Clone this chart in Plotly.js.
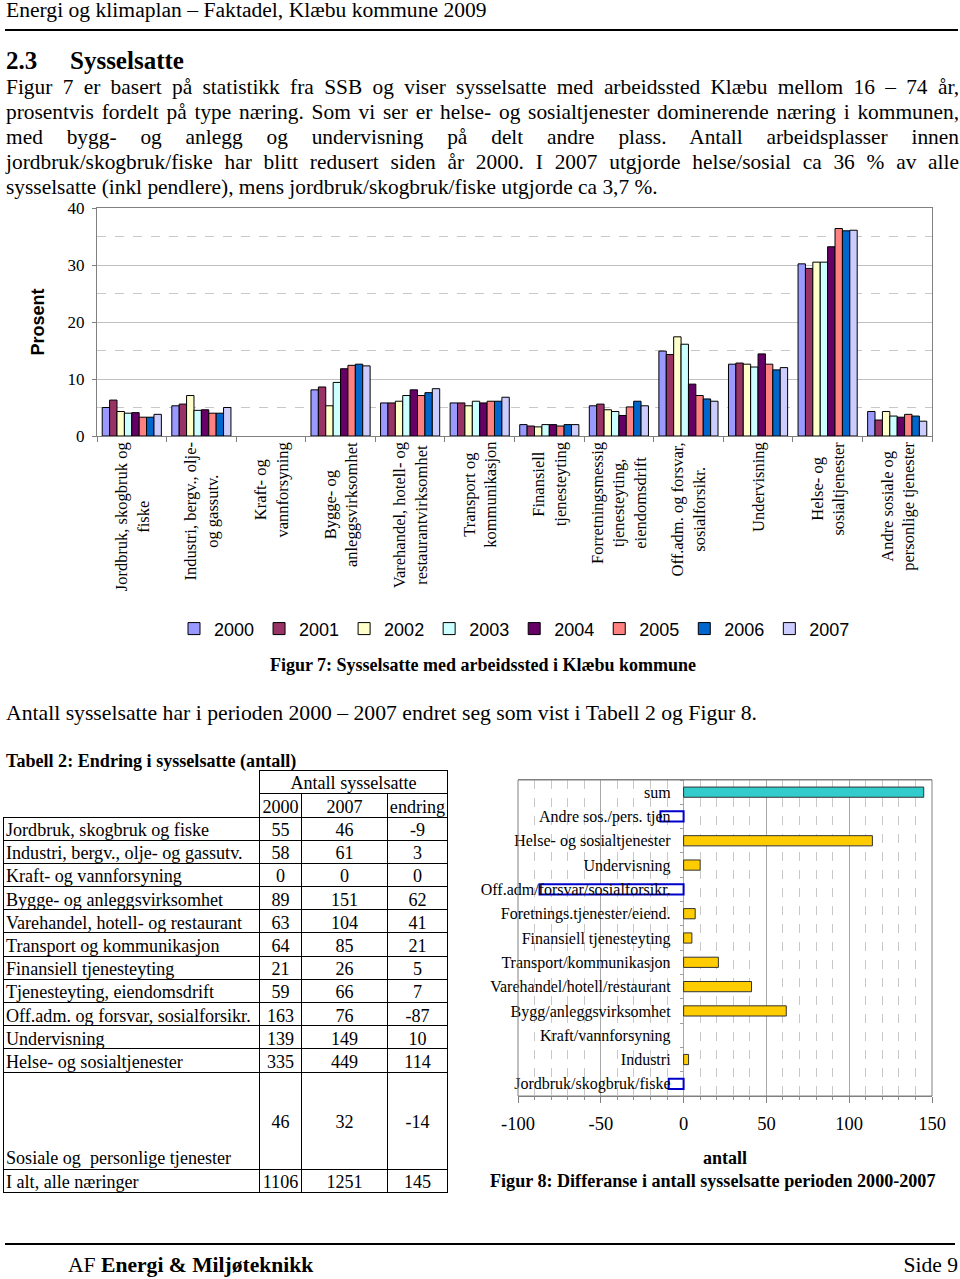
<!DOCTYPE html>
<html><head><meta charset="utf-8">
<script src="https://cdn.plot.ly/plotly-3.0.1.min.js"></script>
<style>
body{margin:0;width:960px;height:1279px;position:relative;font-family:"Liberation Serif","Times New Roman",serif;color:#000;background:#fff;overflow:hidden}
.abs{position:absolute;white-space:nowrap}
.jl{position:absolute;left:6px;width:953px;font-size:21.4px;line-height:25px;text-align:justify;text-align-last:justify;white-space:nowrap}
.hr{position:absolute;height:2px;background:#000}
#tab{position:absolute;left:3px;top:770px;border-collapse:collapse;table-layout:fixed;font-size:18.1px;line-height:1}
#tab td{border:1px solid #000;padding:3px 2px 0 2px;vertical-align:middle;white-space:pre;overflow:hidden}
#tab td.n{text-align:center;padding-left:0;padding-right:0}
#tab td.nb{border:none}
</style></head><body>

<div class="abs" style="left:6px;top:-1px;font-size:21.6px;line-height:22px">Energi og klimaplan – Faktadel, Klæbu kommune 2009</div>
<div class="hr" style="left:5px;top:29px;width:953px"></div>
<div class="abs" style="left:6px;top:47px;font-size:25px;line-height:27px;font-weight:bold">2.3</div>
<div class="abs" style="left:70px;top:47px;font-size:25px;line-height:27px;font-weight:bold">Sysselsatte</div>

<div class="jl" style="top:74.5px">Figur 7 er basert på statistikk fra SSB og viser sysselsatte med arbeidssted Klæbu mellom 16 – 74 år,</div>
<div class="jl" style="top:99.5px">prosentvis fordelt på type næring. Som vi ser er helse- og sosialtjenester dominerende næring i kommunen,</div>
<div class="jl" style="top:124.5px">med bygg- og anlegg og undervisning på delt andre plass. Antall arbeidsplasser innen</div>
<div class="jl" style="top:149.5px">jordbruk/skogbruk/fiske har blitt redusert siden år 2000. I 2007 utgjorde helse/sosial ca 36 % av alle</div>
<div class="jl" style="top:174.5px;text-align-last:left">sysselsatte (inkl pendlere), mens jordbruk/skogbruk/fiske utgjorde ca 3,7 %.</div>

<div id="chart1" style="position:absolute;left:0;top:195px;width:960px;height:470px"></div>
<div class="abs" style="left:0;width:966px;text-align:center;top:654px;font-size:18px;line-height:22px;font-weight:bold">Figur 7: Sysselsatte med arbeidssted i Klæbu kommune</div>

<div class="abs" style="left:6px;top:700px;font-size:21.7px;line-height:26px">Antall sysselsatte har i perioden 2000 – 2007 endret seg som vist i Tabell 2 og Figur 8.</div>

<div class="abs" style="left:6px;top:750px;font-size:18.1px;line-height:22px;font-weight:bold">Tabell 2: Endring i sysselsatte (antall)</div>
<table id="tab"></table>

<div id="chart2" style="position:absolute;left:480px;top:770px;width:480px;height:400px"></div>
<div class="abs" style="left:490px;top:1170px;font-size:18.1px;line-height:22px;font-weight:bold">Figur 8: Differanse i antall sysselsatte perioden 2000-2007</div>

<div class="hr" style="left:5px;top:1243px;width:950px"></div>
<div class="abs" style="left:68px;top:1253px;font-size:21.6px;line-height:24px">AF <b>Energi &amp; Miljøteknikk</b></div>
<div class="abs" style="right:2px;top:1253px;font-size:21.6px;line-height:24px">Side 9</div>

<script>
// ---------- Figur 7 data (prosent) ----------
const years = ['2000','2001','2002','2003','2004','2005','2006','2007'];
const industries = [
  'Jordbruk, skogbruk og<br>fiske',
  'Industri, bergv., olje-<br>og gassutv.',
  'Kraft- og<br>vannforsyning',
  'Bygge- og<br>anleggsvirksomhet',
  'Varehandel, hotell- og<br>restaurantvirksomhet',
  'Transport og<br>kommunikasjon',
  'Finansiell<br>tjenesteyting',
  'Forretningsmessig<br>tjenesteyting,<br>eiendomsdrift',
  'Off.adm. og forsvar,<br>sosialforsikr.',
  'Undervisning',
  'Helse- og<br>sosialtjenester',
  'Andre sosiale og<br>personlige tjenester'
];
const v2000 = [5.0, 5.3, 0, 8.1, 5.8, 5.8, 2.0, 5.3, 14.9, 12.6, 30.2, 4.3];
const v2001 = [6.3, 5.6, 0, 8.6, 5.8, 5.8, 1.75, 5.6, 14.3, 12.8, 29.4, 2.8];
const v2002 = [4.3, 7.1, 0, 5.3, 6.1, 5.3, 1.6, 4.6, 17.4, 12.6, 30.5, 4.3];
const v2003 = [4.0, 4.5, 0, 9.4, 7.1, 6.1, 2.0, 4.3, 16.1, 12.1, 30.5, 3.5];
const v2004 = [4.1, 4.6, 0, 11.8, 8.1, 5.8, 2.0, 3.6, 9.1, 14.4, 33.2, 3.3];
const v2005 = [3.3, 4.0, 0, 12.4, 7.1, 6.1, 1.75, 5.1, 7.1, 12.6, 36.4, 3.8];
const v2006 = [3.3, 4.0, 0, 12.6, 7.6, 6.1, 2.0, 6.1, 6.5, 11.6, 36.0, 3.5];
const v2007 = [3.8, 5.0, 0, 12.3, 8.3, 6.8, 2.0, 5.3, 6.1, 12.0, 36.1, 2.6];
const yTicks = [0, 10, 20, 30, 40];

// ---------- Tabell 2 data ----------
const tabLabels = ['Jordbruk, skogbruk og fiske','Industri, bergv., olje- og gassutv.','Kraft- og vannforsyning',
  'Bygge- og anleggsvirksomhet','Varehandel, hotell- og restaurant','Transport og kommunikasjon',
  'Finansiell tjenesteyting','Tjenesteyting, eiendomsdrift','Off.adm. og forsvar, sosialforsikr.',
  'Undervisning','Helse- og sosialtjenester','Sosiale og  personlige tjenester','I alt, alle næringer'];
const tab2000 = [55, 58, 0, 89, 63, 64, 21, 59, 163, 139, 335, 46, 1106];
const tab2007 = [46, 61, 0, 151, 104, 85, 26, 66, 76, 149, 449, 32, 1251];
const tabEndring = [-9, 3, 0, 62, 41, 21, 5, 7, -87, 10, 114, -14, 145];
const tabHeader = ['Antall sysselsatte', '2000', '2007', 'endring'];

// ---------- Figur 8 data (antall) ----------
const diffCats = ['Jordbruk/skogbruk/fiske','Industri','Kraft/vannforsyning','Bygg/anleggsvirksomhet',
  'Varehandel/hotell/restaurant','Transport/kommunikasjon','Finansiell tjenesteyting',
  'Foretnings.tjenester/eiend.','Off.adm/forsvar/sosialforsikr.','Undervisning',
  'Helse- og sosialtjenester','Andre sos./pers. tjen','sum'];
const diffVals = [-9, 3, 0, 62, 41, 21, 5, 7, -87, 10, 114, -14, 145];
const diffTicks = [-100, -50, 0, 50, 100, 150];

// ---------- Build table ----------
(function(){
  const t = document.getElementById('tab');
  let h = '<colgroup><col style="width:256px"><col style="width:42px"><col style="width:86px"><col style="width:60px"></colgroup>';
  h += '<tr style="height:23px"><td class="nb"></td><td class="n" colspan="3">' + tabHeader[0] + '</td></tr>';
  h += '<tr style="height:23.5px"><td class="nb" style="border-bottom:1px solid #000"></td><td class="n">' + tabHeader[1] +
       '</td><td class="n">' + tabHeader[2] + '</td><td class="n">' + tabHeader[3] + '</td></tr>';
  for (let i = 0; i < tabLabels.length; i++) {
    const tall = (i === tabLabels.length - 2);
    const ht = tall ? 97 : 23.2;
    h += '<tr style="height:' + ht + 'px"><td' + (tall ? ' style="vertical-align:bottom;padding-bottom:1px"' : '') + '>' + tabLabels[i] + '</td>' +
         '<td class="n">' + tab2000[i] + '</td><td class="n">' + tab2007[i] + '</td><td class="n">' + tabEndring[i] + '</td></tr>';
  }
  t.innerHTML = h;
})();

// ---------- Figur 7 ----------
const colors = ['#9999FF','#993366','#FFFFCC','#CCFFFF','#660066','#FF8080','#0066CC','#CCCCFF'];
const series = [v2000, v2001, v2002, v2003, v2004, v2005, v2006, v2007];
const serif = 'Liberation Serif, Times New Roman, serif';
const sans = 'Liberation Sans, Arial, sans-serif';

const traces1 = series.map((vals, k) => ({
  type: 'bar', name: years[k], x: industries, y: vals,
  marker: {color: colors[k], line: {color: '#000', width: vals.map(v => v === 0 ? 0 : 1)}},
  hoverinfo: 'skip'
}));

const ann1 = industries.map(lbl => ({
  x: lbl, y: 0, xref: 'x', yref: 'paper', xanchor: 'center', yanchor: 'top', yshift: -4,
  textangle: -90, text: lbl, showarrow: false, align: 'center',
  font: {family: serif, size: 16.5, color: '#000'}
}));

const layout1 = {
  width: 960, height: 470,
  margin: {l: 97, r: 28, t: 13, b: 229, pad: 0},
  paper_bgcolor: 'rgba(0,0,0,0)', plot_bgcolor: '#fff',
  barmode: 'group', bargap: 0.15, bargroupgap: 0,
  showlegend: true,
  legend: {orientation: 'h', x: 0.5, xanchor: 'center', y: -0.846, yanchor: 'middle',
           font: {family: sans, size: 18, color: '#000'}, itemclick: false, itemdoubleclick: false,
           bgcolor: 'rgba(0,0,0,0)'},
  xaxis: {type: 'category', showticklabels: false, ticks: 'outside', tickson: 'boundaries',
          ticklen: 5, tickcolor: '#808080', showline: true, linecolor: '#808080', linewidth: 1,
          mirror: true, showgrid: false, range: [-0.5, 11.5], fixedrange: true},
  yaxis: {range: [0, 40], tickvals: yTicks, ticktext: yTicks.map(String),
          tickfont: {family: serif, size: 17, color: '#000'},
          showgrid: true, gridcolor: '#c0c0c0', gridwidth: 1,
          minor: {dtick: 5, tick0: 0, showgrid: true, griddash: 'dash', gridcolor: '#c8c8c8', ticks: ''},
          showline: true, linecolor: '#808080', linewidth: 1, mirror: true,
          ticks: 'outside', ticklen: 4, tickcolor: '#808080', ticklabelstandoff: 4,
          zeroline: false, fixedrange: true,
          title: {text: '<b>Prosent</b>', font: {family: sans, size: 18, color: '#000'}, standoff: 18}},
  annotations: ann1
};
Plotly.newPlot('chart1', traces1, layout1, {displayModeBar: false, staticPlot: true});

// ---------- Figur 8 ----------
const last = diffVals.length - 1;
const fillCol = diffVals.map((v, i) => i === last ? '#33CCCC' : (v < 0 ? '#FFFFFF' : '#FFCC00'));
const lineCol = diffVals.map((v, i) => v < 0 ? '#0000CC' : '#333333');
const lineW = diffVals.map(v => v === 0 ? 0 : (v < 0 ? 2 : 1));

const traces2 = [{
  type: 'bar', orientation: 'h', x: diffVals, y: diffCats,
  marker: {color: fillCol, line: {color: lineCol, width: lineW}},
  hoverinfo: 'skip', showlegend: false
}];

const layout2 = {
  width: 480, height: 400,
  margin: {l: 38, r: 28, t: 10, b: 74, pad: 0},
  paper_bgcolor: 'rgba(0,0,0,0)', plot_bgcolor: '#fff',
  bargap: 0.58,
  xaxis: {range: [-100, 150], tickvals: diffTicks, ticktext: diffTicks.map(String),
          showgrid: true, gridcolor: '#a8a8a8', gridwidth: 1,
          minor: {dtick: 10, tick0: 0, showgrid: true, griddash: 'dash', gridcolor: '#c8c8c8',
                  ticks: 'outside', ticklen: 3, tickcolor: '#909090'},
          ticks: 'outside', ticklen: 6, tickcolor: '#808080',
          tickfont: {family: serif, size: 18.5, color: '#000'}, ticklabelstandoff: 5,
          showline: true, linecolor: '#808080', mirror: true, zeroline: false, fixedrange: true,
          title: {text: '<b>antall</b>', font: {family: serif, size: 18, color: '#000'}, standoff: 18}},
  yaxis: {type: 'category', anchor: 'free', position: 0.4, range: [-0.5, 12.5],
          showline: false, showgrid: false, zeroline: false,
          ticks: 'outside', tickson: 'boundaries', ticklen: 4, tickcolor: '#a0a0a0',
          tickfont: {family: serif, size: 16, color: '#000'}, ticklabelstandoff: 13, fixedrange: true},
  shapes: [{type: 'rect', xref: 'paper', yref: 'paper', x0: 0, x1: 1, y0: 0, y1: 1,
            line: {color: '#808080', width: 1}, fillcolor: 'rgba(0,0,0,0)', layer: 'above'}]
};
Plotly.newPlot('chart2', traces2, layout2, {displayModeBar: false, staticPlot: true});
</script>
</body></html>
